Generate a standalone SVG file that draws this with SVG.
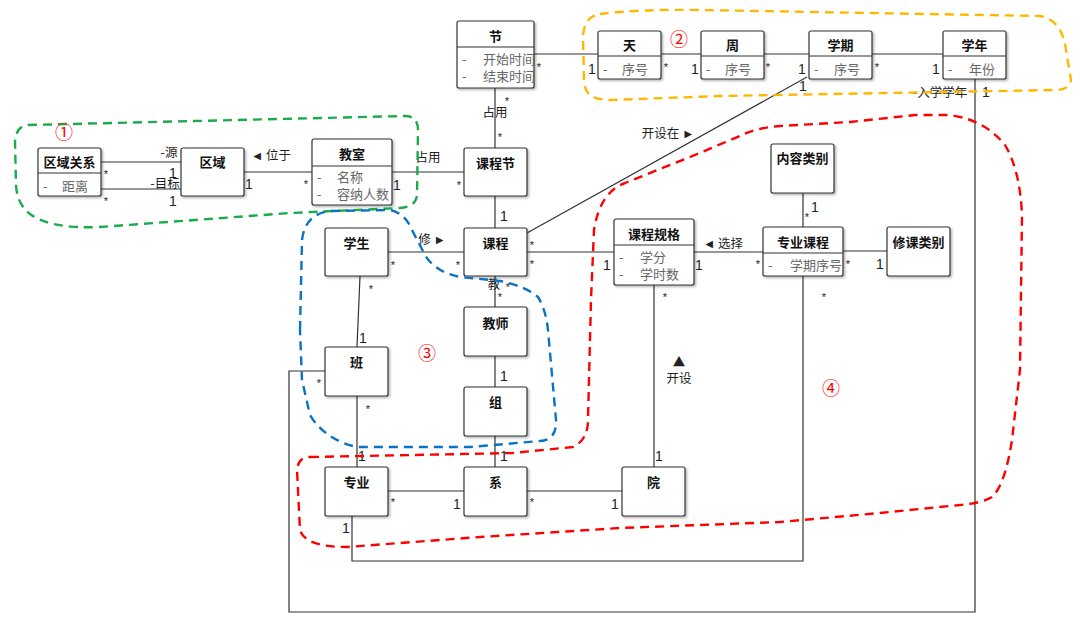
<svg xmlns="http://www.w3.org/2000/svg" width="1080" height="618" viewBox="0 0 1080 618">
<defs>
<filter id="sh" x="-10%" y="-10%" width="130%" height="130%">
<feDropShadow dx="1.5" dy="1.5" stdDeviation="0.8" flood-color="#000" flood-opacity="0.3"/>
</filter>
<style>
.box{fill:#fff;stroke:#333;stroke-width:1.2;filter:url(#sh)}
.sep{stroke:#333;stroke-width:1.2}
.t{font-family:"Noto Sans CJK SC","Noto Sans",sans-serif;font-size:13px;font-weight:bold;fill:#111;text-anchor:middle}
.a{font-family:"Noto Sans CJK SC","Noto Sans",sans-serif;font-size:13px;fill:#666}
.c{fill:none;stroke:#333;stroke-width:1.2}
.l{font-family:"Noto Sans CJK SC","Noto Sans",sans-serif;font-size:12.5px;fill:#222}
.m{font-family:"Liberation Sans",sans-serif;font-size:14px;fill:#222}
.s{font-family:"Liberation Sans",sans-serif;font-size:11px;fill:#222}
.ann{fill:none;stroke-width:2.4;stroke-dasharray:9 6}
.num{font-family:"DejaVu Serif","Noto Sans CJK SC",serif;font-size:18px;fill:#f00;text-anchor:middle}
</style>
</defs>
<rect width="1080" height="618" fill="#fff"/>

<g id="connectors">
<line class="c" x1="101" y1="162" x2="181" y2="162"/>
<line class="c" x1="101" y1="189" x2="181" y2="189"/>
<line class="c" x1="244" y1="172" x2="312" y2="172"/>
<line class="c" x1="392" y1="172" x2="464" y2="172"/>
<line class="c" x1="534" y1="54" x2="598" y2="54"/>
<line class="c" x1="661" y1="54" x2="701" y2="54"/>
<line class="c" x1="764" y1="54" x2="809" y2="54"/>
<line class="c" x1="872" y1="54" x2="943" y2="54"/>
<line class="c" x1="495" y1="88" x2="495" y2="148"/>
<line class="c" x1="495" y1="196" x2="495" y2="228"/>
<line class="c" x1="527" y1="233" x2="807" y2="77"/>
<line class="c" x1="388" y1="252" x2="464" y2="252"/>
<line class="c" x1="527" y1="252" x2="614" y2="252"/>
<line class="c" x1="694" y1="252" x2="763" y2="252"/>
<line class="c" x1="843" y1="251" x2="887" y2="251"/>
<line class="c" x1="803" y1="193" x2="803" y2="227"/>
<line class="c" x1="360" y1="276" x2="357" y2="347"/>
<line class="c" x1="495" y1="276" x2="495" y2="307"/>
<line class="c" x1="495" y1="356" x2="495" y2="387"/>
<line class="c" x1="495" y1="436" x2="495" y2="467"/>
<line class="c" x1="357" y1="396" x2="357" y2="467"/>
<line class="c" x1="388" y1="491" x2="464" y2="491"/>
<line class="c" x1="527" y1="491" x2="622" y2="491"/>
<line class="c" x1="654" y1="285" x2="654" y2="467"/>
<polyline class="c" points="352,516 352,561 803,561 803,276"/>
<polyline class="c" points="325,371 289,371 289,612 975,612 975,79"/>

<text class="l" x="169" y="157" text-anchor="middle">-源</text>
<text class="l" x="165" y="188" text-anchor="middle">-目标</text>
<text class="m" x="173" y="178" text-anchor="middle">1</text>
<text class="m" x="173" y="206" text-anchor="middle">1</text>
<text class="s" x="106" y="178" text-anchor="middle">*</text>
<text class="s" x="106" y="205" text-anchor="middle">*</text>
<text class="l" x="271" y="160" text-anchor="middle">◄ 位于</text>
<text class="m" x="249" y="189" text-anchor="middle">1</text>
<text class="s" x="306" y="188" text-anchor="middle">*</text>
<text class="m" x="397" y="190" text-anchor="middle">1</text>
<text class="l" x="428" y="162" text-anchor="middle">占用</text>
<text class="s" x="459" y="189" text-anchor="middle">*</text>
<text class="s" x="539" y="71" text-anchor="middle">*</text>
<text class="m" x="592" y="74" text-anchor="middle">1</text>
<text class="s" x="666" y="71" text-anchor="middle">*</text>
<text class="m" x="695" y="74" text-anchor="middle">1</text>
<text class="s" x="768" y="71" text-anchor="middle">*</text>
<text class="m" x="802" y="74" text-anchor="middle">1</text>
<text class="s" x="877" y="71" text-anchor="middle">*</text>
<text class="m" x="936" y="74" text-anchor="middle">1</text>
<text class="m" x="803" y="91" text-anchor="middle">1</text>
<text class="l" x="668" y="138" text-anchor="middle">开设在 ►</text>
<text class="s" x="532" y="249" text-anchor="middle">*</text>
<text class="s" x="507" y="105" text-anchor="middle">*</text>
<text class="l" x="495" y="117" text-anchor="middle">占用</text>
<text class="s" x="500" y="141" text-anchor="middle">*</text>
<text class="m" x="504" y="221" text-anchor="middle">1</text>
<text class="l" x="432" y="244" text-anchor="middle">修 ►</text>
<text class="s" x="393" y="269" text-anchor="middle">*</text>
<text class="s" x="458" y="269" text-anchor="middle">*</text>
<text class="s" x="532" y="268" text-anchor="middle">*</text>
<text class="m" x="607" y="270" text-anchor="middle">1</text>
<text class="l" x="723" y="248" text-anchor="middle">◄ 选择</text>
<text class="m" x="699" y="270" text-anchor="middle">1</text>
<text class="s" x="758" y="268" text-anchor="middle">*</text>
<text class="s" x="848" y="268" text-anchor="middle">*</text>
<text class="m" x="880" y="269" text-anchor="middle">1</text>
<text class="m" x="815" y="212" text-anchor="middle">1</text>
<text class="s" x="807" y="221" text-anchor="middle">*</text>
<text class="s" x="371" y="293" text-anchor="middle">*</text>
<text class="m" x="363" y="343" text-anchor="middle">1</text>
<text class="l" x="494" y="289" text-anchor="middle">教</text>
<text class="s" x="508" y="291" text-anchor="middle">*</text>
<text class="s" x="500" y="301" text-anchor="middle">*</text>
<text class="m" x="504" y="381" text-anchor="middle">1</text>
<text class="s" x="368" y="413" text-anchor="middle">*</text>
<text class="m" x="362" y="461" text-anchor="middle">1</text>
<text class="m" x="504" y="461" text-anchor="middle">1</text>
<text class="s" x="393" y="506" text-anchor="middle">*</text>
<text class="m" x="457" y="509" text-anchor="middle">1</text>
<text class="s" x="532" y="506" text-anchor="middle">*</text>
<text class="m" x="615" y="509" text-anchor="middle">1</text>
<text class="s" x="665" y="301" text-anchor="middle">*</text>
<text class="m" x="659" y="461" text-anchor="middle">1</text>
<text class="l" x="679" y="367" text-anchor="middle" font-size="10">▲</text>
<text class="l" x="679" y="383" text-anchor="middle">开设</text>
<text class="m" x="346" y="533" text-anchor="middle">1</text>
<text class="s" x="824" y="301" text-anchor="middle">*</text>
<text class="s" x="319" y="387" text-anchor="middle">*</text>
<text class="l" x="940" y="97" text-anchor="middle">-入学学年</text>
<text class="m" x="986" y="97" text-anchor="middle">1</text>
</g>

<g id="n-quyuguanxi"><rect class="box" x="38" y="148" width="63" height="48" rx="2"/><line class="sep" x1="38" y1="173" x2="101" y2="173"/><text class="t" x="69.5" y="167">区域关系</text><text class="a" x="43" y="191">-</text><text class="a" x="62" y="191">距离</text></g>
<g id="n-quyu"><rect class="box" x="181" y="148" width="63" height="48" rx="2"/><text class="t" x="212.5" y="167">区域</text></g>
<g id="n-jiaoshi"><rect class="box" x="312" y="139" width="80" height="66" rx="2"/><line class="sep" x1="312" y1="166" x2="392" y2="166"/><text class="t" x="352" y="159">教室</text><text class="a" x="317" y="182">-</text><text class="a" x="337" y="182">名称</text><text class="a" x="317" y="199">-</text><text class="a" x="337" y="199">容纳人数</text></g>
<g id="n-jie"><rect class="box" x="457" y="21" width="77" height="67" rx="2"/><line class="sep" x1="457" y1="47" x2="534" y2="47"/><text class="t" x="495.5" y="41">节</text><text class="a" x="462" y="64">-</text><text class="a" x="483" y="64">开始时间</text><text class="a" x="462" y="81">-</text><text class="a" x="483" y="81">结束时间</text></g>
<g id="n-tian"><rect class="box" x="598" y="31" width="63" height="48" rx="2"/><line class="sep" x1="598" y1="56" x2="661" y2="56"/><text class="t" x="629.5" y="50">天</text><text class="a" x="603" y="74">-</text><text class="a" x="622" y="74">序号</text></g>
<g id="n-zhou"><rect class="box" x="701" y="31" width="63" height="48" rx="2"/><line class="sep" x1="701" y1="56" x2="764" y2="56"/><text class="t" x="732.5" y="50">周</text><text class="a" x="706" y="74">-</text><text class="a" x="725" y="74">序号</text></g>
<g id="n-xueqi"><rect class="box" x="809" y="31" width="63" height="48" rx="2"/><line class="sep" x1="809" y1="56" x2="872" y2="56"/><text class="t" x="840.5" y="50">学期</text><text class="a" x="814" y="74">-</text><text class="a" x="834" y="74">序号</text></g>
<g id="n-xuenian"><rect class="box" x="943" y="31" width="63" height="48" rx="2"/><line class="sep" x1="943" y1="56" x2="1006" y2="56"/><text class="t" x="974.5" y="50">学年</text><text class="a" x="948" y="74">-</text><text class="a" x="969" y="74">年份</text></g>
<g id="n-kechengjie"><rect class="box" x="464" y="148" width="63" height="48" rx="2"/><text class="t" x="495.5" y="168">课程节</text></g>
<g id="n-xuesheng"><rect class="box" x="325" y="228" width="63" height="48" rx="2"/><text class="t" x="356.5" y="248">学生</text></g>
<g id="n-kecheng"><rect class="box" x="464" y="228" width="63" height="48" rx="2"/><text class="t" x="495.5" y="248">课程</text></g>
<g id="n-kechengguige"><rect class="box" x="614" y="219" width="80" height="66" rx="2"/><line class="sep" x1="614" y1="245" x2="694" y2="245"/><text class="t" x="654" y="239">课程规格</text><text class="a" x="619" y="262">-</text><text class="a" x="640" y="262">学分</text><text class="a" x="619" y="279">-</text><text class="a" x="640" y="279">学时数</text></g>
<g id="n-neirongleibie"><rect class="box" x="771" y="144" width="63" height="49" rx="2"/><text class="t" x="802.5" y="163">内容类别</text></g>
<g id="n-zhuanyekecheng"><rect class="box" x="763" y="227" width="80" height="49" rx="2"/><line class="sep" x1="763" y1="253" x2="843" y2="253"/><text class="t" x="803" y="247">专业课程</text><text class="a" x="768" y="270">-</text><text class="a" x="790" y="270">学期序号</text></g>
<g id="n-xiukeleibie"><rect class="box" x="887" y="227" width="63" height="49" rx="2"/><text class="t" x="918.5" y="247">修课类别</text></g>
<g id="n-jiaoshi-teacher"><rect class="box" x="464" y="307" width="63" height="49" rx="2"/><text class="t" x="495.5" y="328">教师</text></g>
<g id="n-ban"><rect class="box" x="325" y="347" width="63" height="49" rx="2"/><text class="t" x="356.5" y="367">班</text></g>
<g id="n-zu"><rect class="box" x="464" y="387" width="63" height="49" rx="2"/><text class="t" x="495.5" y="407">组</text></g>
<g id="n-zhuanye"><rect class="box" x="325" y="467" width="63" height="49" rx="2"/><text class="t" x="356.5" y="487">专业</text></g>
<g id="n-xi"><rect class="box" x="464" y="467" width="63" height="49" rx="2"/><text class="t" x="495.5" y="487">系</text></g>
<g id="n-yuan"><rect class="box" x="622" y="467" width="63" height="49" rx="2"/><text class="t" x="653.5" y="487">院</text></g>

<g id="annotations">
<path class="ann" stroke="#1aab4a" d="M 28,125 L 405,116 Q 418,116 418,130 L 417,195 Q 416,207 400,208 L 290,213 L 100,227 Q 50,229 30,214 Q 17,204 16,185 L 15,142 Q 16,126 28,125 Z"/>
<path class="ann" stroke="#ffb800" d="M 600,14 Q 640,9 700,10 L 1040,16 Q 1062,20 1066,50 L 1071,80 Q 1070,90 1055,90 L 720,96 L 610,100 Q 585,100 584,82 L 583,35 Q 585,16 600,14 Z"/>
<path class="ann" stroke="#0a72c4" d="M 300,330 L 302,240 Q 305,214 330,211 L 390,210 Q 405,213 412,230 L 425,255 Q 435,272 460,277 L 500,281 Q 525,286 538,297 Q 546,310 548,330 L 556,420 Q 557,440 540,441 L 470,447 L 357,447 Q 325,440 310,415 L 302,380 Z"/>
<path class="ann" stroke="#ff0000" d="M 310,457 L 413,455 L 513,453 L 573,447 Q 588,440 588,420 L 591,300 L 594,230 Q 600,192 625,183 L 690,157 L 740,136 Q 755,128 780,126 L 850,122 L 915,115 L 950,115 Q 985,120 1005,145 Q 1020,170 1022,215 L 1020,370 L 1012,440 Q 1005,485 992,497 Q 982,503 960,505 L 880,513 L 780,522 L 620,528 L 480,537 L 347,547 Q 305,547 300,530 L 297,470 Q 298,457 310,457 Z"/>
<text class="num" x="64" y="139">①</text>
<text class="num" x="679" y="46">②</text>
<text class="num" x="427" y="360">③</text>
<text class="num" x="831" y="395">④</text>
</g>
</svg>
